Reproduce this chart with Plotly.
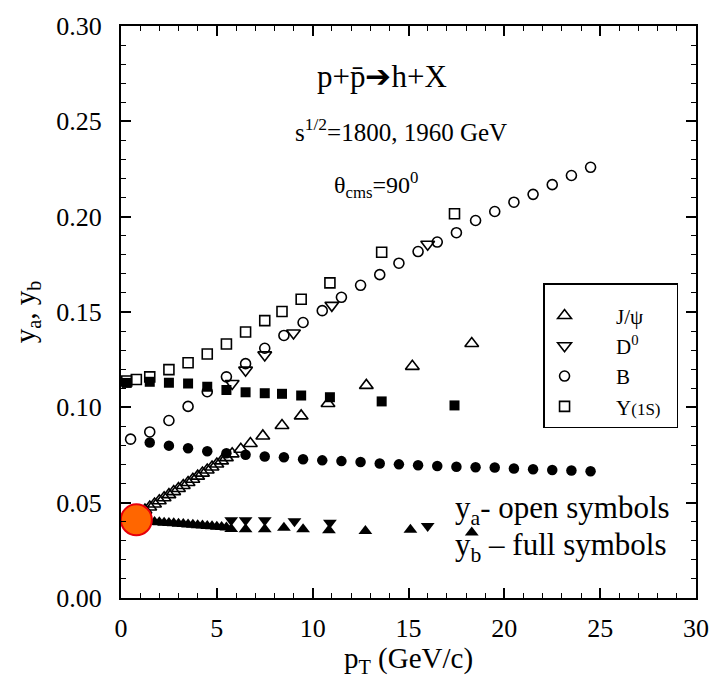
import plotly.graph_objects as go

# ---- data: y_a (open symbols) and y_b (full symbols) vs pT ----
jpsi_a_x = [1.0, 1.25, 1.5, 1.75, 2.0, 2.25, 2.5, 2.75, 3.0, 3.25, 3.5, 3.75, 4.0,
            4.25, 4.5, 4.75, 5.0, 5.25, 5.5, 5.8, 6.25, 6.75, 7.4, 8.4, 9.4, 10.8,
            12.8, 15.2, 18.3]
jpsi_a_y = [0.0445, 0.0461, 0.0477, 0.0493, 0.0510, 0.0526, 0.0542, 0.0558, 0.0574,
            0.0590, 0.0606, 0.0623, 0.0639, 0.0655, 0.0671, 0.0687, 0.0703, 0.0719,
            0.0736, 0.0756, 0.0780, 0.0810, 0.0850, 0.0905, 0.0955, 0.1020, 0.1115,
            0.1215, 0.1335]

jpsi_b_x = [1.0, 1.25, 1.5, 1.75, 2.0, 2.25, 2.5, 2.75, 3.0, 3.25, 3.5, 3.75, 4.0,
            4.25, 4.5, 4.75, 5.0, 5.25, 5.5, 5.75, 6.5, 7.5, 8.5, 9.5, 10.85, 12.75,
            15.1, 18.3]
jpsi_b_y = [0.0405, 0.0403, 0.0401, 0.0399, 0.0397, 0.0395, 0.0394, 0.0392, 0.0390,
            0.0388, 0.0386, 0.0384, 0.0382, 0.0380, 0.0378, 0.0376, 0.0374, 0.0372,
            0.0370, 0.0362, 0.0360, 0.0360, 0.0368, 0.0360, 0.0355, 0.0352, 0.0358,
            0.0344]

d0_a_x = [5.8, 6.5, 7.5, 9.0, 11.0, 16.0]
d0_a_y = [0.1125, 0.1195, 0.1275, 0.1390, 0.1535, 0.1855]
d0_b_x = [5.75, 6.5, 7.5, 9.05, 10.9, 16.0]
d0_b_y = [0.0408, 0.0408, 0.0408, 0.0402, 0.0395, 0.0378]

b_a_x = [0.5, 1.5, 2.5, 3.5, 4.5, 5.5, 6.5, 7.5, 8.5, 9.5, 10.5, 11.5, 12.5,
         13.5, 14.5, 15.5, 16.5, 17.5, 18.5, 19.5, 20.5, 21.5, 22.5, 23.5, 24.5]
b_a_y = [0.0833, 0.0871, 0.0931, 0.1005, 0.1082, 0.1160, 0.1229, 0.1310, 0.1377,
         0.1445, 0.1507, 0.1577, 0.1640, 0.1696, 0.1756, 0.1817, 0.1867, 0.1916,
         0.1980, 0.2027, 0.2076, 0.2117, 0.2168, 0.2216, 0.2259]
b_b_x = [1.5, 2.5, 3.5, 4.5, 5.5, 6.5, 7.5, 8.5, 9.5, 10.5, 11.5, 12.5, 13.5,
         14.5, 15.5, 16.5, 17.5, 18.5, 19.5, 20.5, 21.5, 22.5, 23.5, 24.5]
b_b_y = [0.0816, 0.0799, 0.0785, 0.0770, 0.0759, 0.0751, 0.0742, 0.0738, 0.0728,
         0.0722, 0.0718, 0.0713, 0.0705, 0.0701, 0.0696, 0.0692, 0.0688, 0.0686,
         0.0684, 0.0679, 0.0675, 0.0671, 0.0669, 0.0665]

ups_a_x = [0.3, 0.8, 1.5, 2.5, 3.5, 4.5, 5.5, 6.5, 7.5, 8.4, 9.4, 10.9, 13.6, 17.4]
ups_a_y = [0.1138, 0.1146, 0.1160, 0.1198, 0.1234, 0.1280, 0.1332, 0.1395, 0.1455,
           0.1503, 0.1567, 0.1653, 0.1813, 0.2015]
ups_b_x = [0.3, 1.5, 2.5, 3.5, 4.5, 5.5, 6.5, 7.5, 8.4, 9.4, 10.9, 13.6, 17.4]
ups_b_y = [0.1128, 0.1134, 0.1129, 0.1125, 0.1108, 0.1091, 0.1079, 0.1074, 0.1071,
           0.1062, 0.1053, 0.1031, 0.1010]

# common low-pT point
common_x = [0.8]
common_y = [0.041]

x_ticks = [0, 5, 10, 15, 20, 25, 30]
y_ticks = [0.00, 0.05, 0.10, 0.15, 0.20, 0.25, 0.30]

FONT = "'Liberation Serif', 'Times New Roman', Times, serif"
NB = "\u00a0"
PAD = NB * 6

fig = go.Figure()


def add(x, y, symbol, name=None, size=10, lw=1.6):
    fig.add_trace(go.Scatter(
        x=x, y=y, mode="markers", name=name, showlegend=name is not None,
        marker=dict(symbol=symbol, size=size, color="black",
                    line=dict(color="black", width=lw)),
    ))


add(jpsi_a_x, jpsi_a_y, "triangle-up-open", PAD + "J/ψ", size=12)
add(d0_a_x, d0_a_y, "triangle-down-open", PAD + "D<sup>0</sup>", size=12)
add(b_a_x, b_a_y, "circle-open", PAD + "B")
add(ups_a_x, ups_a_y, "square-open",
    PAD + "Υ<span style='font-size:17px'>(1S)</span>" + NB * 2)

add(jpsi_b_x, jpsi_b_y, "triangle-up", size=12, lw=0)
add(d0_b_x, d0_b_y, "triangle-down", size=12, lw=0)
add(b_b_x, b_b_y, "circle", size=10.5, lw=0)
add(ups_b_x, ups_b_y, "square", size=10, lw=0)

fig.add_trace(go.Scatter(
    x=common_x, y=common_y, mode="markers", showlegend=False,
    marker=dict(symbol="circle", size=31, color="#FF6600",
                line=dict(color="#E8000B", width=2)),
))

axis_common = dict(
    showline=True, linecolor="black", linewidth=2, mirror="ticks",
    ticks="inside", ticklen=10, tickwidth=1.5, tickcolor="black",
    showgrid=False, zeroline=False,
    tickfont=dict(family=FONT, size=26, color="black"),
)

fig.update_xaxes(
    range=[0, 30], tickvals=x_ticks, ticktext=[str(v) for v in x_ticks],
    minor=dict(dtick=1, ticks="inside", ticklen=5, tickwidth=1.2, tickcolor="black"),
    title=dict(text="p<sub>T</sub> (GeV/c)", font=dict(family=FONT, size=29, color="black"),
               standoff=2),
    ticklabelstandoff=6,
    **axis_common,
)
fig.update_yaxes(
    range=[0, 0.30], tickvals=y_ticks, ticktext=[f"{v:.2f}" for v in y_ticks],
    minor=dict(dtick=0.01, ticks="inside", ticklen=5, tickwidth=1.2, tickcolor="black"),
    title=dict(text="y<sub>a</sub>, y<sub>b</sub>", font=dict(family=FONT, size=29, color="black"),
               standoff=12),
    ticklabelstandoff=12,
    **axis_common,
)


def note(x, y, text, size, **kw):
    fig.add_annotation(x=x, y=y, text=text, showarrow=False, xref="x", yref="y",
                       font=dict(family=FONT, color="black", size=size), **kw)


note(13.6, 0.2735, "p+p\u0304\u2794h+X", 31)
note(14.6, 0.2455, "s<sup>1/2</sup>=1800, 1960 GeV", 25)
note(13.3, 0.2165, "θ<sub>cms</sub>=90<sup>0</sup>", 24)
note(17.3, 0.046, "y<sub>a</sub>- open symbols", 31, xanchor="left")
note(17.3, 0.027, "y<sub>b</sub> – full symbols", 31, xanchor="left")

fig.update_layout(
    width=721, height=678,
    margin=dict(l=121, r=17, t=19, b=80),
    paper_bgcolor="white", plot_bgcolor="white",
    showlegend=True,
    legend=dict(
        x=0.734, y=0.55, xanchor="left", yanchor="top",
        bgcolor="white", bordercolor="black", borderwidth=1.5,
        font=dict(family=FONT, size=21, color="black"),
        title=dict(text=NB, font=dict(family=FONT, size=8)),
        itemwidth=30, tracegroupgap=0,
    ),
)

fig.write_html("out.html")
